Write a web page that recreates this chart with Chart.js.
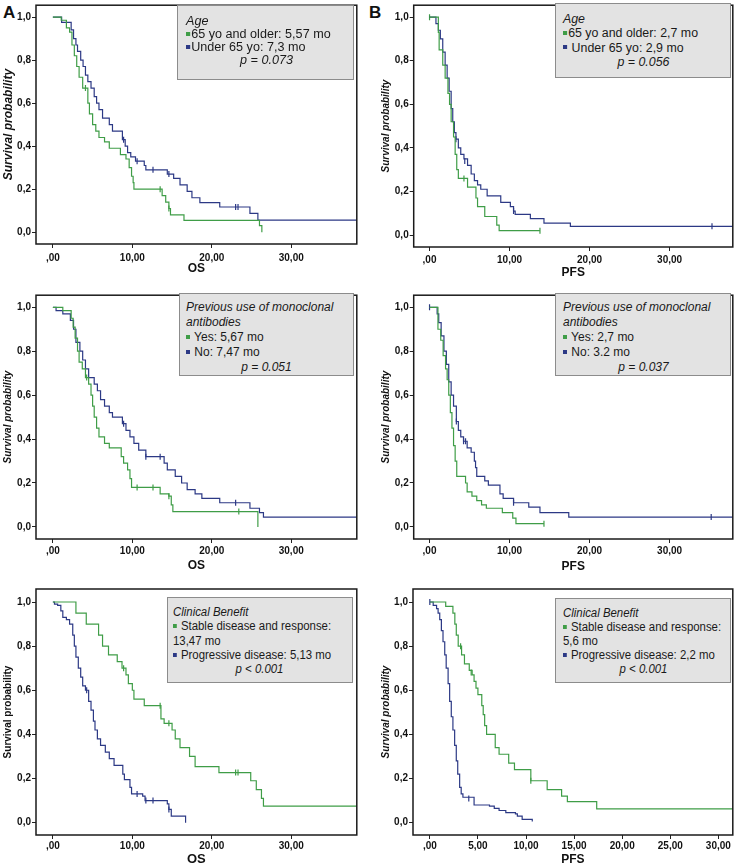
<!DOCTYPE html>
<html>
<head>
<meta charset="utf-8">
<script src="https://cdn.jsdelivr.net/npm/chart.js@4.4.1/dist/chart.umd.min.js"></script>
<style>
body { margin: 0; background: #fff; width: 738px; height: 866px; position: relative; overflow: hidden; font-family: 'Liberation Sans', Arial, sans-serif; }
.panel { position: absolute; }
.box { position: absolute; background: #e3e3e3; border: 1px solid #8c8c8c; color: #1a1a1a; font-size: 12px; box-sizing: border-box; }
.box div { white-space: nowrap; }
.box .h, .box .p { font-style: italic; }
.box .p { text-align: center; }
.sq { display: inline-block; width: 4px; height: 4px; margin: 0 1px 2px 0; vertical-align: middle; }
.lab { position: absolute; font: bold 17px 'Liberation Sans', Arial, sans-serif; color: #111; }
</style>
</head>
<body>
<div class="lab" style="left:3px;top:3px">A</div>
<div class="lab" style="left:369px;top:3px">B</div>
<script>
// Kaplan-Meier curves: [months, survival]
var osAgeOld = [[0,1],[1.05,0.985],[1.7,0.95],[2.1,0.93],[2.4,0.87],[2.7,0.82],[3.0,0.77],[3.3,0.72],[3.75,0.67],[4.4,0.6],[4.6,0.55],[5.0,0.5],[5.4,0.47],[5.8,0.44],[6.5,0.42],[7.1,0.39],[8.5,0.36],[9.2,0.34],[9.6,0.3],[9.9,0.26],[10.1,0.23],[10.2,0.2],[13.75,0.17],[14.2,0.14],[14.6,0.11],[14.8,0.08],[16.5,0.055],[26.0,0.03],[26.3,0.0]];
var osAgeOldCens = [[4.1,0.67],[13.5,0.2],[14.6,0.11]];
var osAgeYoung = [[0,1],[1.1,0.975],[2.3,0.94],[2.6,0.9],[2.9,0.87],[3.1,0.84],[3.5,0.8],[3.8,0.77],[4.1,0.73],[4.4,0.7],[4.8,0.67],[5.2,0.63],[5.5,0.6],[5.8,0.57],[6.25,0.53],[7.1,0.5],[7.5,0.47],[8.75,0.43],[9.1,0.4],[9.4,0.37],[9.8,0.35],[10.4,0.33],[11.5,0.31],[11.7,0.29],[14.4,0.27],[15.2,0.25],[16.0,0.22],[16.9,0.19],[17.5,0.16],[18.5,0.137],[21.0,0.117],[24.8,0.087],[25.8,0.056],[38.5,0.056]];
var osAgeYoungCens = [[8.9,0.43],[10.6,0.33],[12.6,0.29],[14.6,0.27],[23.0,0.117],[23.3,0.117]];

var pfsAgeOld = [[0,1],[1.1,0.93],[1.2,0.85],[1.65,0.78],[1.95,0.72],[2.3,0.65],[2.5,0.6],[2.7,0.52],[3.0,0.45],[3.2,0.37],[3.4,0.3],[3.6,0.26],[4.75,0.22],[5.8,0.17],[6.0,0.13],[6.9,0.085],[8.4,0.045],[8.7,0.02],[13.8,0.02]];
var pfsAgeOldCens = [[0,1],[4.3,0.26],[13.8,0.02]];
var pfsAgeYoung = [[0,1],[0.8,0.97],[1.1,0.94],[1.35,0.9],[1.65,0.84],[1.95,0.78],[2.2,0.72],[2.45,0.66],[2.7,0.58],[2.9,0.52],[3.1,0.47],[3.3,0.44],[3.6,0.4],[3.9,0.37],[4.3,0.35],[4.75,0.32],[5.2,0.28],[5.6,0.25],[6.0,0.23],[6.4,0.21],[7.2,0.18],[8.9,0.15],[10.1,0.13],[10.5,0.11],[10.7,0.095],[12.6,0.075],[14.3,0.055],[17.6,0.04],[38.5,0.04]];
var pfsAgeYoungCens = [[3.3,0.44],[4.4,0.34],[10.5,0.11],[35.3,0.04]];

var osMabYes = [[0,1],[1.25,0.985],[2.3,0.95],[2.55,0.91],[2.8,0.86],[3.1,0.8],[3.3,0.75],[3.7,0.72],[4.1,0.68],[4.5,0.65],[4.8,0.6],[5.0,0.55],[5.2,0.5],[5.5,0.45],[5.8,0.41],[6.5,0.38],[7.1,0.36],[8.6,0.32],[8.9,0.29],[9.4,0.26],[9.7,0.22],[9.9,0.18],[13.5,0.15],[14.6,0.14],[14.9,0.1],[15.1,0.07],[25.8,0.0]];
var osMabYesCens = [[4.25,0.68],[10.6,0.18],[12.6,0.18],[14.6,0.14],[23.4,0.07]];
var osMabNo = [[0,1],[0.4,0.985],[1.25,0.97],[2.2,0.94],[2.6,0.9],[2.9,0.84],[3.4,0.8],[3.75,0.76],[4.1,0.72],[4.5,0.68],[5.2,0.65],[5.6,0.62],[6.0,0.58],[6.5,0.55],[7.1,0.52],[7.5,0.5],[8.75,0.47],[9.2,0.44],[9.7,0.41],[10.2,0.38],[10.8,0.35],[11.7,0.32],[14.0,0.29],[14.4,0.26],[15.4,0.23],[16.2,0.2],[16.9,0.17],[17.9,0.15],[18.75,0.13],[21.0,0.11],[24.8,0.085],[26.0,0.065],[26.5,0.045],[38.5,0.045]];
var osMabNoCens = [[8.9,0.47],[11.7,0.32],[13.5,0.32],[23.0,0.11]];

var pfsMabYes = [[0,1],[1.05,0.9],[1.4,0.85],[1.7,0.78],[2.0,0.72],[2.2,0.67],[2.4,0.6],[2.6,0.52],[2.8,0.45],[3.0,0.37],[3.2,0.3],[3.4,0.23],[4.5,0.2],[4.7,0.16],[5.3,0.14],[5.9,0.12],[6.5,0.1],[7.1,0.085],[9.1,0.065],[10.4,0.04],[10.8,0.015],[14.3,0.015]];
var pfsMabYesCens = [[14.3,0.015]];
var pfsMabNo = [[0,1],[0.95,0.97],[1.15,0.93],[1.45,0.87],[1.8,0.8],[2.1,0.74],[2.4,0.66],[2.7,0.6],[3.0,0.55],[3.35,0.48],[3.6,0.44],[3.9,0.41],[4.25,0.39],[4.7,0.36],[5.2,0.34],[5.6,0.3],[5.75,0.27],[5.9,0.23],[6.9,0.21],[7.35,0.19],[8.8,0.15],[9.2,0.13],[10.5,0.11],[12.4,0.09],[13.8,0.065],[17.4,0.045],[38.5,0.045]];
var pfsMabNoCens = [[0,1],[3.35,0.48],[4.25,0.39],[4.5,0.39],[10.5,0.11],[35.2,0.045]];

var osCbStable = [[0,1],[2.9,0.95],[4.2,0.9],[5.75,0.85],[6.25,0.8],[7.0,0.76],[8.1,0.73],[8.7,0.7],[9.2,0.67],[9.5,0.63],[10.0,0.6],[10.2,0.56],[11.5,0.53],[13.6,0.47],[14.0,0.45],[15.0,0.42],[15.4,0.38],[16.0,0.34],[17.2,0.3],[17.9,0.254],[20.9,0.227],[24.9,0.19],[25.6,0.15],[26.25,0.11],[26.5,0.075],[38.5,0.075]];
var osCbStableCens = [[8.9,0.7],[13.5,0.53],[14.6,0.45],[23.0,0.227],[23.3,0.227]];
var osCbProg = [[0,1],[0.2,0.99],[0.6,0.985],[1.0,0.96],[1.25,0.93],[1.7,0.92],[2.1,0.9],[2.5,0.85],[2.7,0.8],[2.9,0.75],[3.2,0.7],[3.5,0.66],[3.75,0.62],[4.1,0.6],[4.5,0.55],[4.8,0.51],[5.1,0.46],[5.3,0.42],[5.6,0.38],[6.0,0.35],[6.6,0.32],[7.1,0.29],[7.7,0.26],[8.8,0.22],[9.0,0.195],[9.7,0.16],[9.9,0.13],[11.3,0.12],[11.6,0.1],[14.4,0.085],[14.6,0.06],[14.9,0.03],[16.7,0.0]];
var osCbProgCens = [[4.25,0.6],[10.6,0.13],[11.7,0.1],[12.6,0.1],[14.6,0.06]];

var pfsCbStable = [[0,1],[1.65,0.98],[2.4,0.95],[2.6,0.9],[2.75,0.85],[2.95,0.8],[3.3,0.76],[3.6,0.72],[4.1,0.69],[4.4,0.67],[4.6,0.64],[4.8,0.61],[5.0,0.58],[5.4,0.53],[5.55,0.49],[5.7,0.44],[5.9,0.4],[6.8,0.34],[7.2,0.31],[8.2,0.27],[8.8,0.24],[10.5,0.19],[12.2,0.15],[13.7,0.12],[14.3,0.095],[17.35,0.062],[32,0.062]];
var pfsCbStableCens = [[3.2,0.8],[4.3,0.68],[10.5,0.19]];
var pfsCbProg = [[0,1],[0.35,0.985],[0.7,0.97],[0.86,0.95],[1.03,0.92],[1.2,0.87],[1.37,0.82],[1.55,0.76],[1.7,0.7],[1.9,0.63],[2.06,0.55],[2.23,0.48],[2.4,0.42],[2.58,0.35],[2.75,0.28],[2.9,0.22],[3.1,0.16],[3.26,0.13],[3.44,0.115],[4.6,0.08],[6.2,0.075],[6.7,0.065],[7.2,0.055],[7.9,0.045],[8.9,0.04],[9.1,0.03],[9.6,0.015],[10.65,0.005]];
var pfsCbProgCens = [[0,1],[4.05,0.11]];

var yTicks = [0, 0.2, 0.4, 0.6, 0.8, 1.0];
var xTicksWide = [0, 10, 20, 30];
var xTicksFine = [0, 5, 10, 15, 20, 25, 30];

var legendAgeOS = [['h','Age'],['g','65 yo and older: 5,57 mo'],['b','Under 65 yo: 7,3 mo'],['p','p = 0.073']];
var legendAgePFS = [['h','Age'],['g','65 yo and older: 2,7 mo'],['b',' Under 65 yo: 2,9 mo'],['p','p = 0.056']];
var legendMabOS = [['h','Previous use of monoclonal'],['h','antibodies'],['g',' Yes: 5,67 mo'],['b',' No: 7,47 mo'],['p','p = 0.051']];
var legendMabPFS = [['h','Previous use of monoclonal'],['h','antibodies'],['g',' Yes: 2,7 mo'],['b',' No: 3.2 mo'],['p','p = 0.037']];
var legendCbOS = [['h','Clinical Benefit'],['g',' Stable disease and response:'],['t','13,47 mo'],['b',' Progressive disease: 5,13 mo'],['p','p < 0.001']];
var legendCbPFS = [['h','Clinical Benefit'],['g',' Stable disease and response:'],['t','5,6 mo'],['b',' Progressive disease: 2,2 mo'],['p','p < 0.001']];

var GREEN = '#3f9d47';
var BLUE = '#2c3985';
var INK = '#111';
var tickFont = { family: "'Liberation Sans Narrow', 'Liberation Sans', Arial, sans-serif", size: 10, weight: 'bold' };

var boxPlugin = {
    id: 'plotBox',
    afterDraw: function (chart) {
        var a = chart.chartArea, ctx = chart.ctx;
        ctx.save();
        ctx.strokeStyle = '#1a1a1a';
        ctx.lineWidth = 1.5;
        ctx.strokeRect(a.left, a.top, a.right - a.left, a.bottom - a.top);
        ctx.restore();
    }
};

function fmtX(v) {
    if (v === 0) return ',00';
    return v.toFixed(2).replace('.', ',');
}

function makeLegend(lines, b) {
    var box = document.createElement('div');
    box.className = 'box';
    box.style.left = b.l + 'px';
    box.style.top = b.t + 'px';
    box.style.width = b.w + 'px';
    box.style.height = b.h + 'px';
    box.style.padding = b.pt + 'px 6px 0 ' + b.pl + 'px';
    box.style.lineHeight = b.lh + 'px';
    lines.forEach(function (ln) {
        var row = document.createElement('div');
        row.className = ln[0];
        // the source text is a little stretched or squeezed sideways
        row.style.transform = 'scaleX(' + b.sx + ')';
        row.style.transformOrigin = ln[0] == 'p' ? 'center' : 'left';
        if (ln[0] == 'g' || ln[0] == 'b') {
            var sq = document.createElement('span');
            sq.className = 'sq';
            sq.style.background = ln[0] == 'g' ? GREEN : BLUE;
            row.appendChild(sq);
        }
        row.appendChild(document.createTextNode(ln[1]));
        box.appendChild(row);
    });
    document.body.appendChild(box);
}

function makeChart(p) {
    var div = document.createElement('div');
    div.className = 'panel';
    div.style.left = p.left + 'px';
    div.style.top = p.top + 'px';
    div.style.width = p.w + 'px';
    div.style.height = p.h + 'px';
    var canvas = document.createElement('canvas');
    div.appendChild(canvas);
    document.body.appendChild(div);

    var yWidth = p.area.l - p.left;
    var xHeight = p.top + p.h - p.area.b;
    var xFontSize = p.xTitleSize;
    var xPad = Math.max(0, p.top + p.h - p.xTitleY - xFontSize / 2);
    var yPad = Math.max(0, p.yTitleX - p.left - p.yTitleSize / 2);

    function curve(data, color) {
        return { data: data, borderColor: color, borderWidth: 1.2, pointRadius: 0, stepped: true, fill: false, tension: 0 };
    }
    function cens(data, color) {
        return { type: 'scatter', data: data, borderColor: color, backgroundColor: color, pointStyle: 'line', rotation: 90, pointRadius: 3, borderWidth: 1.2 };
    }

    new Chart(canvas, {
        type: 'line',
        data: {
            datasets: [
                curve(p.green, GREEN), curve(p.blue, BLUE),
                cens(p.greenCens, GREEN), cens(p.blueCens, BLUE)
            ]
        },
        options: {
            responsive: true,
            maintainAspectRatio: false,
            animation: false,
            layout: { padding: { top: p.area.t - p.top, right: p.left + p.w - p.area.r, left: 0, bottom: 0 } },
            plugins: { legend: { display: false }, tooltip: { enabled: false } },
            scales: {
                x: {
                    type: 'linear', min: p.xMin, max: p.xMax,
                    afterBuildTicks: function (s) { s.ticks = p.xTicks.map(function (v) { return { value: v }; }); },
                    afterFit: function (s) { s.height = xHeight; s.paddingLeft = 0; s.paddingRight = 0; },
                    ticks: { callback: fmtX, font: tickFont, color: INK, padding: p.xTickPad, maxRotation: 0, autoSkip: false },
                    grid: { drawOnChartArea: false, tickLength: 4, color: '#222' },
                    border: { display: false },
                    title: { display: true, text: p.xTitle, color: INK, font: { family: "'Liberation Sans', Arial, sans-serif", size: xFontSize, weight: 'bold', lineHeight: 1 }, padding: { top: 0, bottom: xPad } }
                },
                y: {
                    min: p.yMin, max: p.yMax,
                    afterBuildTicks: function (s) { s.ticks = yTicks.map(function (v) { return { value: v }; }); },
                    afterFit: function (s) { s.width = yWidth; s.paddingTop = 0; s.paddingBottom = 0; },
                    ticks: { callback: function (v) { return v.toFixed(1).replace('.', ','); }, font: tickFont, color: INK, padding: 1 },
                    grid: { drawOnChartArea: false, tickLength: 4, color: '#222' },
                    border: { display: false },
                    title: { display: true, text: 'Survival probability', color: INK, font: { family: "'Liberation Sans', Arial, sans-serif", size: p.yTitleSize, weight: 'bold', style: p.yItalic ? 'italic' : 'normal', lineHeight: 1 }, padding: { top: yPad, bottom: 0 } }
                }
            }
        },
        plugins: [boxPlugin]
    });
}

var panels = [
    { left: 0, top: 0, w: 362, h: 290, area: { l: 36, t: 2, r: 359, b: 244 }, xMin: -2.125, xMax: 38.25, yMin: -0.055, yMax: 1.055,
      xTicks: xTicksWide, xTitle: 'OS', xTitleY: 269, xTitleSize: 12, xTickPad: 4, yTitleX: 8.3, yTitleSize: 12, yItalic: true,
      green: osAgeOld, greenCens: osAgeOldCens, blue: osAgeYoung, blueCens: osAgeYoungCens,
      legend: legendAgeOS, box: { l: 177, t: 5, w: 177, h: 75, pt: 9, pl: 8, lh: 13, sx: 1.05 } },
    { left: 370, top: 0, w: 368, h: 290, area: { l: 413.7, t: 3, r: 736, b: 247 }, xMin: -1.98, xMax: 37.9, yMin: -0.055, yMax: 1.055,
      xTicks: xTicksWide, xTitle: 'PFS', xTitleY: 273, xTitleSize: 12, xTickPad: 3, yTitleX: 386.5, yTitleSize: 10, yItalic: true,
      green: pfsAgeOld, greenCens: pfsAgeOldCens, blue: pfsAgeYoung, blueCens: pfsAgeYoungCens,
      legend: legendAgePFS, box: { l: 555, t: 3, w: 176, h: 75, pt: 8, pl: 7, lh: 14.3, sx: 1.03 } },
    { left: 0, top: 290, w: 362, h: 290, area: { l: 36, t: 294.5, r: 359, b: 539 }, xMin: -2.125, xMax: 38.25, yMin: -0.055, yMax: 1.055,
      xTicks: xTicksWide, xTitle: 'OS', xTitleY: 566, xTitleSize: 12, xTickPad: 2, yTitleX: 8.3, yTitleSize: 10, yItalic: true,
      green: osMabYes, greenCens: osMabYesCens, blue: osMabNo, blueCens: osMabNoCens,
      legend: legendMabOS, box: { l: 179, t: 293, w: 175, h: 83, pt: 6, pl: 6, lh: 15, sx: 1.0 } },
    { left: 370, top: 290, w: 368, h: 290, area: { l: 413.7, t: 294, r: 736, b: 539 }, xMin: -1.98, xMax: 37.9, yMin: -0.055, yMax: 1.055,
      xTicks: xTicksWide, xTitle: 'PFS', xTitleY: 566.5, xTitleSize: 12, xTickPad: 2, yTitleX: 386, yTitleSize: 10, yItalic: true,
      green: pfsMabYes, greenCens: pfsMabYesCens, blue: pfsMabNo, blueCens: pfsMabNoCens,
      legend: legendMabPFS, box: { l: 555, t: 293, w: 176, h: 83, pt: 6, pl: 7, lh: 15, sx: 1.0 } },
    { left: 0, top: 578, w: 362, h: 288, area: { l: 36, t: 589, r: 359, b: 835 }, xMin: -2.125, xMax: 38.25, yMin: -0.056, yMax: 1.059,
      xTicks: xTicksWide, xTitle: 'OS', xTitleY: 860, xTitleSize: 13, xTickPad: 1, yTitleX: 8.3, yTitleSize: 10, yItalic: false,
      green: osCbStable, greenCens: osCbStableCens, blue: osCbProg, blueCens: osCbProgCens,
      legend: legendCbOS, box: { l: 167, t: 597, w: 186, h: 86, pt: 7, pl: 5, lh: 14.3, sx: 0.95 } },
    { left: 370, top: 578, w: 368, h: 288, area: { l: 413, t: 589, r: 736, b: 835 }, xMin: -1.75, xMax: 31.5, yMin: -0.056, yMax: 1.059,
      xTicks: xTicksFine, xTitle: 'PFS', xTitleY: 860.5, xTitleSize: 12, xTickPad: 1, yTitleX: 386, yTitleSize: 10, yItalic: true,
      green: pfsCbStable, greenCens: pfsCbStableCens, blue: pfsCbProg, blueCens: pfsCbProgCens,
      legend: legendCbPFS, box: { l: 555, t: 598, w: 176, h: 85, pt: 7, pl: 7, lh: 14, sx: 0.95 } }
];

panels.forEach(function (p) {
    makeChart(p);
    makeLegend(p.legend, p.box);
});
</script>
</body>
</html>
